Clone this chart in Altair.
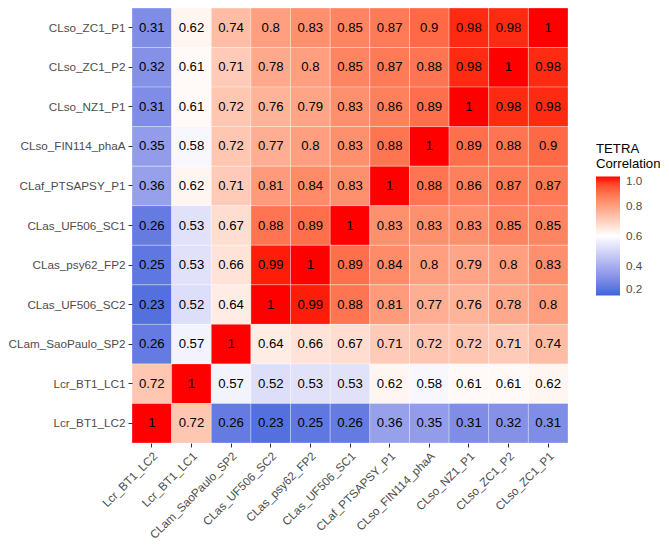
import altair as alt
import pandas as pd

rows = ["CLso_ZC1_P1", "CLso_ZC1_P2", "CLso_NZ1_P1", "CLso_FIN114_phaA", "CLaf_PTSAPSY_P1",
        "CLas_UF506_SC1", "CLas_psy62_FP2", "CLas_UF506_SC2", "CLam_SaoPaulo_SP2",
        "Lcr_BT1_LC1", "Lcr_BT1_LC2"]
cols = ["Lcr_BT1_LC2", "Lcr_BT1_LC1", "CLam_SaoPaulo_SP2", "CLas_UF506_SC2", "CLas_psy62_FP2",
        "CLas_UF506_SC1", "CLaf_PTSAPSY_P1", "CLso_FIN114_phaA", "CLso_NZ1_P1",
        "CLso_ZC1_P2", "CLso_ZC1_P1"]

values = [
    [0.31, 0.62, 0.74, 0.80, 0.83, 0.85, 0.87, 0.90, 0.98, 0.98, 1.00],
    [0.32, 0.61, 0.71, 0.78, 0.80, 0.85, 0.87, 0.88, 0.98, 1.00, 0.98],
    [0.31, 0.61, 0.72, 0.76, 0.79, 0.83, 0.86, 0.89, 1.00, 0.98, 0.98],
    [0.35, 0.58, 0.72, 0.77, 0.80, 0.83, 0.88, 1.00, 0.89, 0.88, 0.90],
    [0.36, 0.62, 0.71, 0.81, 0.84, 0.83, 1.00, 0.88, 0.86, 0.87, 0.87],
    [0.26, 0.53, 0.67, 0.88, 0.89, 1.00, 0.83, 0.83, 0.83, 0.85, 0.85],
    [0.25, 0.53, 0.66, 0.99, 1.00, 0.89, 0.84, 0.80, 0.79, 0.80, 0.83],
    [0.23, 0.52, 0.64, 1.00, 0.99, 0.88, 0.81, 0.77, 0.76, 0.78, 0.80],
    [0.26, 0.57, 1.00, 0.64, 0.66, 0.67, 0.71, 0.72, 0.72, 0.71, 0.74],
    [0.72, 1.00, 0.57, 0.52, 0.53, 0.53, 0.62, 0.58, 0.61, 0.61, 0.62],
    [1.00, 0.72, 0.26, 0.23, 0.25, 0.26, 0.36, 0.35, 0.31, 0.32, 0.31],
]

records = []
for r, row in zip(rows, values):
    for c, v in zip(cols, row):
        records.append({"row": r, "col": c, "value": v,
                        "label": ("%g" % v)})
df = pd.DataFrame(records)

FONT = "Liberation Sans"

base = alt.Chart(df).encode(
    x=alt.X("col:N", sort=cols, title=None,
            axis=alt.Axis(labelAngle=-45, labelAlign="right", labelBaseline="top",
                          labelFontSize=11.7, labelColor="#4D4D4D", labelFont=FONT,
                          tickColor="#333333", tickSize=4, labelPadding=3,
                          domain=False, grid=False)),
    y=alt.Y("row:N", sort=rows, title=None,
            axis=alt.Axis(labelFontSize=11.7, labelColor="#4D4D4D", labelFont=FONT,
                          tickColor="#333333", tickSize=4, labelPadding=3,
                          domain=False, grid=False)),
)

tiles = base.mark_rect(stroke="white", strokeWidth=0.6, strokeOpacity=0.5).encode(
    color=alt.Color("value:Q",
                    scale=alt.Scale(domain=[0.2, 0.6, 1.0],
                                    range=["#3D66DB", "#FFFFFF", "#FF0000"],
                                    interpolate="lab"),
                    legend=alt.Legend(title=["TETRA", "Correlation"],
                                      values=[0.2, 0.4, 0.6, 0.8, 1.0], format=".1f",
                                      orient="none", legendX=464, legendY=135,
                                      gradientLength=119, gradientThickness=24,
                                      titleFontSize=13.2, titleFontWeight="normal",
                                      titleFont=FONT, titleColor="#000000",
                                      labelFontSize=11.7, labelFont=FONT,
                                      labelColor="#4D4D4D", labelOffset=6,
                                      tickCount=5))
)

text = base.mark_text(fontSize=13.2, font=FONT, color="#000000").encode(
    text="label:N"
)

chart = (tiles + text).properties(
    width=436, height=435,
    autosize=alt.AutoSizeParams(type="none"),
    padding={"left": 124, "top": 0, "right": 92, "bottom": 100},
).configure_view(stroke=None)

chart.save("out.html", embed_options={"renderer": "svg", "actions": False})
